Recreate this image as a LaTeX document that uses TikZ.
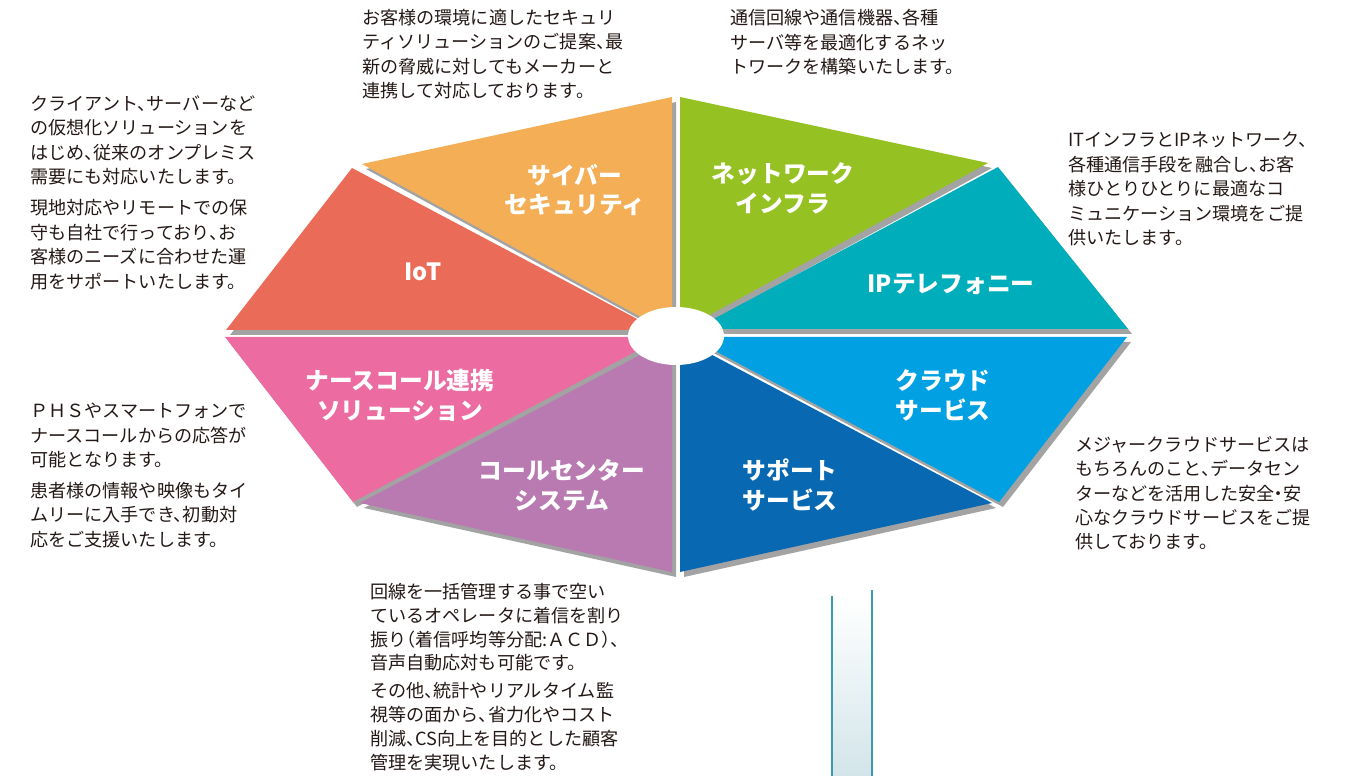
\documentclass[tikz,border=0pt]{standalone}
\usepackage{fontspec}
\setmainfont{Noto Sans CJK JP}
\newfontfamily\descfont{Noto Sans CJK JP}[RawFeature=+halt]
\usepackage{xcolor}
\usepackage{tikz}
\usetikzlibrary{positioning, calc}

\definecolor{iotc}{HTML}{EA6B57}
\definecolor{cyberc}{HTML}{F4AE56}
\definecolor{netc}{HTML}{95C122}
\definecolor{telc}{HTML}{00ADBA}
\definecolor{cloudc}{HTML}{00A0E2}
\definecolor{supc}{HTML}{0868B2}
\definecolor{callc}{HTML}{B87AB0}
\definecolor{nursec}{HTML}{EC6CA2}
\definecolor{shadowc}{HTML}{A3A3A3}
\definecolor{descc}{HTML}{231815}
\definecolor{barc}{HTML}{3A9BB0}
\definecolor{barfill}{HTML}{D3E5EA}

\begin{document}
\begin{tikzpicture}[
    x=0.02cm, y=-0.02cm,
    label/.style={text=white, font=\fontsize{13.5}{17}\selectfont\bfseries, align=center, inner sep=0pt},
    desc/.style={text=descc, font=\descfont\fontsize{10.3}{13.9}\selectfont, align=left, anchor=north west, inner sep=0pt},
    barline/.style={draw=barc, line width=1.1pt}
]
    \useasboundingbox (0,0) rectangle (1351,776);

    % Slices (colour / three corners)
    \def\slices{iotc/{226,330}/{352,168}/{658,330},
        cyberc/{362,164}/{672,97}/{672,334},
        netc/{680,97}/{988,163}/{680,331},
        telc/{998,167}/{1128,329}/{695,329},
        cloudc/{1127,337}/{999,502}/{689,337},
        supc/{992,503}/{680,572}/{680,338},
        callc/{360,503}/{672,572}/{672,338},
        nursec/{225,337}/{353,502}/{663,337}}

    % shadows first
    \foreach \col/\pa/\pb/\pc in \slices
        \fill[shadowc, shift={(4,5)}] (\pa) -- (\pb) -- (\pc) -- cycle;
    \foreach \col/\pa/\pb/\pc in \slices
        \fill[\col] (\pa) -- (\pb) -- (\pc) -- cycle;

    % hub
    \fill[white] (676,336) ellipse [x radius=0.96cm, y radius=0.58cm];

    % Labels
    \node[label] (lab-iot) at (423,272) {IoT};
    \node[label] (lab-cyber) at (575,190) {サイバー\\セキュリティ};
    \node[label] (lab-net) at (783,188) {ネットワーク\\インフラ};
    \node[label] (lab-tel) at (951,284) {IPテレフォニー};
    \node[label] (lab-cloud) at (943,395) {クラウド\\サービス};
    \node[label] (lab-sup) at (790,485) {サポート\\サービス};
    \node[label] (lab-call) at (562,485) {コールセンター\\システム};
    \node[label] (lab-nurse) at (400,395) {ナースコール連携\\ソリューション};

    % Descriptions
    \node[desc] (desc-cyber) at (362,9) {お客様の環境に適したセキュリ\\ティソリューションのご提案、最\\新の脅威に対してもメーカーと\\連携して対応しております。};
    \node[desc] (desc-net) at (730,9) {通信回線や通信機器、各種\\サーバ等を最適化するネッ\\トワークを構築いたします。};
    \node[desc] (desc-iot) at (30,95) {クライアント、サーバーなど\\の仮想化ソリューションを\\はじめ、従来のオンプレミス\\需要にも対応いたします。\\[4pt]現地対応やリモートでの保\\守も自社で行っており、お\\客様のニーズに合わせた運\\用をサポートいたします。};
    \node[desc] (desc-tel) at (1068,132) {ITインフラとIPネットワーク、\\各種通信手段を融合し、お客\\様ひとりひとりに最適なコ\\ミュニケーション環境をご提\\供いたします。};
    \node[desc] (desc-nurse) at (30,403) {ＰＨＳやスマートフォンで\\ナースコールからの応答が\\可能となります。\\[3.5pt]患者様の情報や映像もタイ\\ムリーに入手でき、初動対\\応をご支援いたします。};
    \node[desc] (desc-cloud) at (1075,436) {メジャークラウドサービスは\\もちろんのこと、データセン\\ターなどを活用した安全・安\\心なクラウドサービスをご提\\供しております。};
    \node[desc, font=\descfont\fontsize{10.3}{13.5}\selectfont] (desc-call) at (370,583) {回線を一括管理する事で空い\\ているオペレータに着信を割り\\振り（着信呼均等分配:ＡＣＤ）、\\音声自動応対も可能です。\\[2.5pt]その他、統計やリアルタイム監\\視等の面から、省力化やコスト\\削減、CS向上を目的とした顧客\\管理を実現いたします。};

    % Bar at the bottom
    \shade[top color=white, bottom color=barfill] (832,596) rectangle (872,776);
    \coordinate (barl-top) at (832,596);
    \coordinate (barl-bot) at (832,776);
    \coordinate (barr-top) at (872,590);
    \coordinate (barr-bot) at (872,776);
    \draw[barline] (barl-top) -- (barl-bot);
    \draw[barline] (barr-top) -- (barr-bot);
\end{tikzpicture}
\end{document}
